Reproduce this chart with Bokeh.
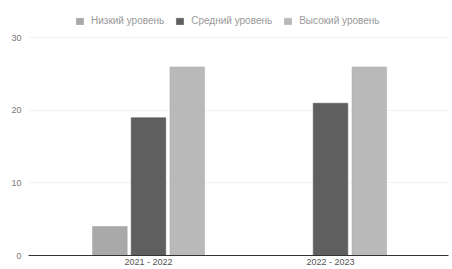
from bokeh.plotting import figure
from bokeh.models import ColumnDataSource, Range1d, FixedTicker, Legend, LegendItem
from bokeh.transform import dodge
from bokeh.embed import file_html
from bokeh.resources import INLINE

categories = ["2021 - 2022", "2022 - 2023"]
series_names = ["Низкий уровень", "Средний уровень", "Высокий уровень"]
low = [4, 0]
mid = [19, 21]
high = [26, 26]
y_ticks = [0, 10, 20, 30]

src = ColumnDataSource(dict(x=list(range(len(categories))), low=low, mid=mid, high=high))

p = figure(width=452, height=269, output_backend="svg", toolbar_location=None,
           x_range=Range1d(-0.659, 1.648), y_range=Range1d(0, 35.17),
           min_border_left=28, min_border_right=4, min_border_top=0, min_border_bottom=14)
p.outline_line_color = None
p.background_fill_color = "white"

colors = ["#a9a9a9", "#5f5f5f", "#b9b9b9"]
w = 0.19
r1 = p.vbar(x=dodge("x", -0.212), top="low", width=w, source=src, fill_color=colors[0], line_color="#9a9a9a", line_width=0.5)
r2 = p.vbar(x=dodge("x", 0.0), top="mid", width=w, source=src, fill_color=colors[1], line_color="#505050", line_width=0.5)
r3 = p.vbar(x=dodge("x", 0.213), top="high", width=w, source=src, fill_color=colors[2], line_color="#aaaaaa", line_width=0.5)

legend = Legend(items=[LegendItem(label=series_names[0], renderers=[r1]),
                       LegendItem(label=series_names[1], renderers=[r2]),
                       LegendItem(label=series_names[2], renderers=[r3])],
                orientation="horizontal", location=(47, 229))
legend.glyph_width = 9
legend.glyph_height = 8
legend.label_height = 8
legend.label_text_font = "Liberation Sans"
legend.label_text_font_size = "10px"
legend.label_text_color = "#999999"
legend.label_standoff = 7
legend.spacing = 11
legend.padding = 0
legend.margin = 0
legend.border_line_color = None
legend.background_fill_alpha = 0
p.add_layout(legend)

p.xaxis.ticker = FixedTicker(ticks=list(range(len(categories))))
p.xaxis.major_label_overrides = {i: c for i, c in enumerate(categories)}
p.xaxis.major_tick_line_color = None
p.xaxis.major_tick_out = 0
p.xaxis.major_tick_in = 0
p.xaxis.minor_tick_line_color = None
p.xaxis.axis_line_color = "#333333"
p.xaxis.major_label_text_font = "Liberation Sans"
p.xaxis.major_label_text_font_size = "9px"
p.xaxis.major_label_text_color = "#555555"
p.xaxis.major_label_standoff = 1

p.yaxis.ticker = FixedTicker(ticks=y_ticks)
p.yaxis.axis_line_color = None
p.yaxis.major_tick_line_color = None
p.yaxis.major_tick_out = 0
p.yaxis.major_tick_in = 0
p.yaxis.minor_tick_line_color = None
p.yaxis.major_label_text_font = "Liberation Sans"
p.yaxis.major_label_text_font_size = "9px"
p.yaxis.major_label_text_color = "#777777"
p.yaxis.major_label_standoff = 7

p.xgrid.grid_line_color = None
p.ygrid.grid_line_color = "#f2f2f2"

open("out.html", "w").write(file_html(p, INLINE))
